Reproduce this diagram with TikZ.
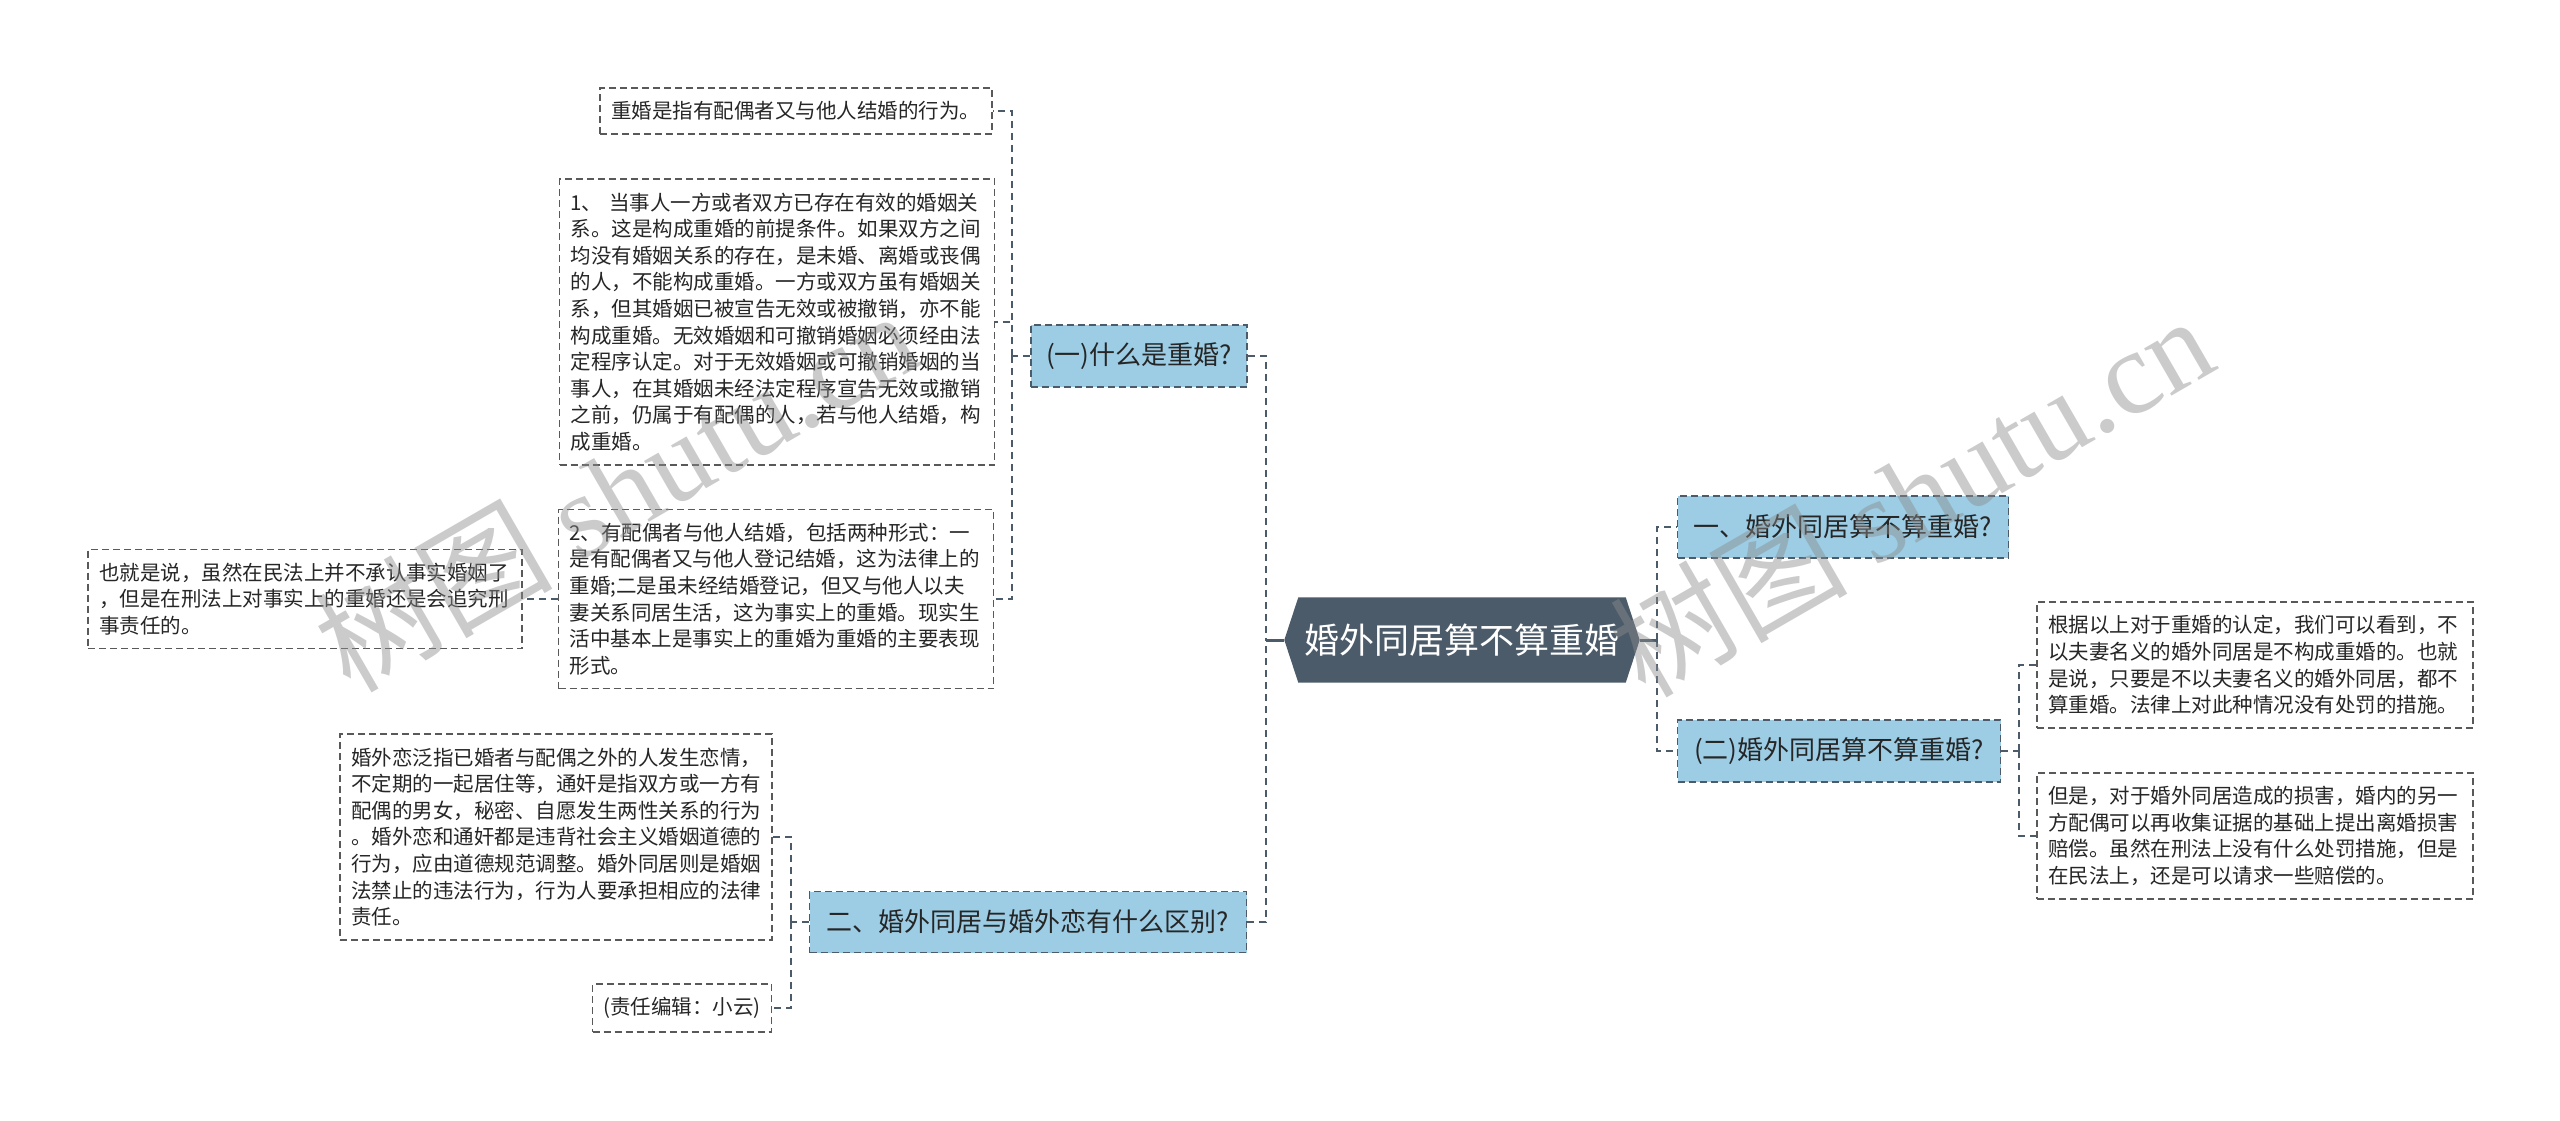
\documentclass[tikz,border=0pt]{standalone}
\usepackage{fontspec}
\setmainfont{Noto Sans CJK SC}
\newfontfamily\wmlatin{Liberation Serif}
\usetikzlibrary{backgrounds}
\definecolor{nodeblue}{HTML}{9CCDE5}
\definecolor{slate}{HTML}{4B5B6A}
\definecolor{boxline}{HTML}{595959}
\definecolor{inktext}{HTML}{262626}
\tikzset{
  linkline/.style={draw=slate, line width=2pt, dash pattern=on 7pt off 5pt},
  rootlink/.style={draw=slate, line width=3pt},
  rootbox/.style={text=white, font=\fontsize{35}{40}\selectfont, minimum width=355pt, minimum height=85pt, inner sep=0pt},
  topic/.style={draw=slate, fill=nodeblue, line width=1.6pt, dash pattern=on 7pt off 4pt,
    font=\fontsize{26}{30}\selectfont, text=inktext, inner sep=0pt},
  txtbox/.style={draw=boxline, fill=white, line width=1.5pt, dash pattern=on 7pt off 4pt,
    font=\fontsize{20.5}{26.6}\selectfont, text=inktext, align=left, inner xsep=11pt, inner ysep=0pt},
  wmark/.style={text=black!45, text opacity=.45, font=\fontsize{119}{119}\selectfont,
    rotate=30, anchor=base west, inner sep=0pt}
}
\begin{document}
\begin{tikzpicture}[x=1pt, y=-1pt]
  \useasboundingbox (0,0) rectangle (2560,1120);
  % centre and main branches
  \node[rootbox] (root) at (1462,640) {婚外同居算不算重婚};
  \begin{scope}[on background layer]
    \fill[slate] (root.west) -- ([xshift=14pt]root.north west) -- ([xshift=-14pt]root.north east)
      -- (root.east) -- ([xshift=-14pt]root.south east) -- ([xshift=14pt]root.south west) -- cycle;
  \end{scope}
  \node[topic, minimum width=216pt, minimum height=62pt] (q1) at (1139,356) {(一)什么是重婚?};
  \node[topic, minimum width=437pt, minimum height=61pt] (q2) at (1028,922) {二、婚外同居与婚外恋有什么区别?};
  \node[topic, minimum width=331pt, minimum height=62pt] (r1) at (1843,527) {一、婚外同居算不算重婚?};
  \node[topic, minimum width=323pt, minimum height=62pt] (r2) at (1839,751) {(二)婚外同居算不算重婚?};
  % text boxes
  \node[txtbox, text width=370pt, minimum height=46pt] (a) at (796,111) {重婚是指有配偶者又与他人结婚的行为。};
  \node[txtbox, text width=413pt, minimum height=286pt] (b) at (777,322) {1、 当事人一方或者双方已存在有效的婚姻关\\
    系。这是构成重婚的前提条件。如果双方之间\\均没有婚姻关系的存在，是未婚、离婚或丧偶\\
    的人，不能构成重婚。一方或双方虽有婚姻关\\系，但其婚姻已被宣告无效或被撤销，亦不能\\
    构成重婚。无效婚姻和可撤销婚姻必须经由法\\定程序认定。对于无效婚姻或可撤销婚姻的当\\
    事人，在其婚姻未经法定程序宣告无效或撤销\\之前，仍属于有配偶的人，若与他人结婚，构\\成重婚。};
  \node[txtbox, text width=413pt, minimum height=179pt] (c) at (776,599) {2、有配偶者与他人结婚，包括两种形式：一\\
    是有配偶者又与他人登记结婚，这为法律上的\\重婚;二是虽未经结婚登记，但又与他人以夫\\
    妻关系同居生活，这为事实上的重婚。现实生\\活中基本上是事实上的重婚为重婚的主要表现\\形式。};
  \node[txtbox, text width=412pt, minimum height=99pt] (d) at (305,599) {也就是说，虽然在民法上并不承认事实婚姻了\\
    ，但是在刑法上对事实上的重婚还是会追究刑\\事责任的。};
  \node[txtbox, text width=410pt, minimum height=206pt] (e) at (556,837) {婚外恋泛指已婚者与配偶之外的人发生恋情，\\
    不定期的一起居住等，通奸是指双方或一方有\\配偶的男女，秘密、自愿发生两性关系的行为\\
    。婚外恋和通奸都是违背社会主义婚姻道德的\\行为，应由道德规范调整。婚外同居则是婚姻\\
    法禁止的违法行为，行为人要承担相应的法律\\责任。};
  \node[txtbox, text width=157pt, minimum height=48pt] (f) at (682,1008) {(责任编辑：小云)};
  \node[txtbox, text width=414pt, minimum height=126pt] (g) at (2255,665) {根据以上对于重婚的认定，我们可以看到，不\\
    以夫妻名义的婚外同居是不构成重婚的。也就\\是说，只要是不以夫妻名义的婚外同居，都不\\
    算重婚。法律上对此种情况没有处罚的措施。};
  \node[txtbox, text width=414pt, minimum height=126pt] (h) at (2255,836) {但是，对于婚外同居造成的损害，婚内的另一\\
    方配偶可以再收集证据的基础上提出离婚损害\\赔偿。虽然在刑法上没有什么处罚措施，但是\\
    在民法上，还是可以请求一些赔偿的。};
  % joints
  \coordinate (jl) at (1266,640);
  \coordinate (jr) at (1657,640);
  \coordinate (j1) at (1012,356);
  \coordinate (j2) at (791,922);
  \coordinate (j3) at (2019,751);
  % connectors
  \draw[rootlink] (root.west) -- (jl);
  \draw[rootlink] (root.east) -- (jr);
  \draw[linkline] (q1.east) -| (jl);
  \draw[linkline] (q2.east) -| (jl);
  \draw[linkline] (jr) |- (r1.west);
  \draw[linkline] (jr) |- (r2.west);
  \draw[linkline] (q1.west) -- (j1);
  \foreach \t in {a,b,c}
    \draw[linkline] (j1) |- (\t.east);
  \draw[linkline] (c.west) -- (d.east);
  \draw[linkline] (q2.west) -- (j2);
  \foreach \t in {e,f}
    \draw[linkline] (j2) |- (\t.east);
  \draw[linkline] (r2.east) -- (j3);
  \foreach \t in {g,h}
    \draw[linkline] (j3) |- (\t.west);
  % watermarks
  \node[wmark] (wm1) at (350,695) {树图 \wmlatin shutu.cn};
  \node[wmark] (wm2) at (1645,700) {树图 \wmlatin shutu.cn};
\end{tikzpicture}
\end{document}
